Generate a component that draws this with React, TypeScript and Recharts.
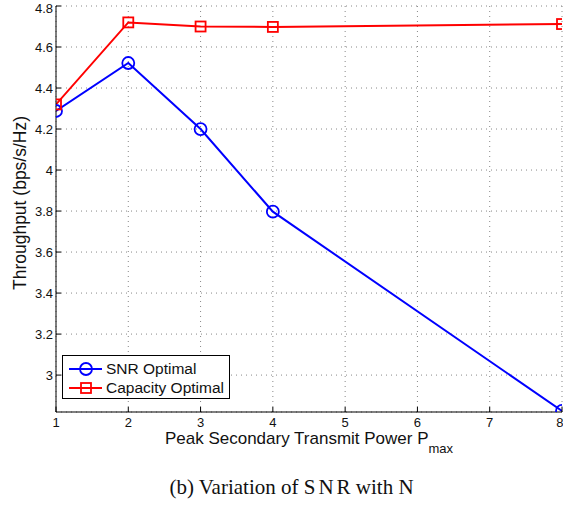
import {
  CartesianGrid,
  Legend,
  Line,
  LineChart,
  XAxis,
  YAxis,
} from "recharts";

const powers = [1, 2, 3, 4, 8];
const snrOptimal = [4.288, 4.522, 4.2, 3.797, 2.825];
const capacityOptimal = [4.32, 4.72, 4.7, 4.698, 4.712];
const xTicks = [1, 2, 3, 4, 5, 6, 7, 8];
const yTicks = [3, 3.2, 3.4, 3.6, 3.8, 4, 4.2, 4.4, 4.6, 4.8];

const rows = powers.map((p, i) => ({
  p,
  snr: snrOptimal[i],
  cap: capacityOptimal[i],
}));

const FONT = "'Liberation Sans', Arial, Helvetica, sans-serif";
const BLUE = "#0000ff";
const RED = "#ff0000";

const SquareDot = (props: any) => {
  const { cx, cy } = props;
  if (cx == null || cy == null) return null;
  return (
    <rect
      x={cx - 5}
      y={cy - 5}
      width={10}
      height={10}
      fill="none"
      stroke={RED}
      strokeWidth={1.8}
    />
  );
};

const XLabel = (props: any) => {
  const vb = props.viewBox || {};
  const cx = vb.x + vb.width / 2;
  return (
    <text
      x={cx}
      y={444}
      textAnchor="middle"
      fontFamily={FONT}
      fontSize={17}
      fill="#111"
    >
      Peak Secondary Transmit Power P
      <tspan fontSize={13} dy={9}>
        max
      </tspan>
    </text>
  );
};

const LegendBox = () => (
  <svg width={168} height={45} style={{ display: "block" }}>
    <rect x={0.5} y={0.5} width={167} height={43} fill="#fff" stroke="#000" />
    <line x1={7} x2={40} y1={14} y2={14} stroke={BLUE} strokeWidth={2} />
    <circle cx={24} cy={14} r={6} fill="none" stroke={BLUE} strokeWidth={1.8} />
    <text x={44} y={19} fontFamily={FONT} fontSize={15.5} fill="#111">
      SNR Optimal
    </text>
    <line x1={7} x2={40} y1={33} y2={33} stroke={RED} strokeWidth={2} />
    <rect x={19} y={28} width={10} height={10} fill="none" stroke={RED} strokeWidth={1.8} />
    <text x={44} y={38} fontFamily={FONT} fontSize={15.5} fill="#111">
      Capacity Optimal
    </text>
  </svg>
);

export default function App() {
  return (
    <div
      style={{
        position: "absolute",
        left: 0,
        top: 0,
        width: 563,
        height: 509,
        background: "#fff",
      }}
    >
      <LineChart
        width={563}
        height={460}
        data={rows}
        margin={{ top: 6, right: 1, bottom: 0, left: 0 }}
      >
        <CartesianGrid stroke="#888" strokeDasharray="1 4" strokeWidth={1} />
        <XAxis
          dataKey="p"
          type="number"
          domain={[1, 8]}
          ticks={xTicks}
          allowDataOverflow
          height={48}
          stroke="#000"
          tickSize={-5}
          tickMargin={11}
          tick={{ fill: "#111", fontSize: 13, fontFamily: FONT }}
          label={<XLabel />}
        />
        <XAxis
          xAxisId="top"
          dataKey="p"
          type="number"
          domain={[1, 8]}
          ticks={xTicks}
          orientation="top"
          height={0}
          stroke="#000"
          tick={false}
          tickSize={-5}
        />
        <YAxis
          type="number"
          domain={[2.82, 4.8]}
          ticks={yTicks}
          allowDataOverflow
          width={56}
          stroke="#000"
          tickSize={-5}
          tickMargin={8}
          tick={{ fill: "#111", fontSize: 13, fontFamily: FONT }}
          label={{
            value: "Throughput (bps/s/Hz)",
            angle: -90,
            position: "insideLeft",
            offset: 0,
            dx: 20,
            dy: -6,
            style: {
              textAnchor: "middle",
              fontFamily: FONT,
              fontSize: 17.5,
              fill: "#111",
            },
          }}
        />
        <YAxis
          yAxisId="right"
          type="number"
          domain={[2.82, 4.8]}
          ticks={yTicks}
          orientation="right"
          width={0}
          stroke="#000"
          tick={false}
          tickSize={-5}
        />
        <Legend
          layout="horizontal"
          verticalAlign="middle"
          align="center"
          wrapperStyle={{ left: 62, top: 355, width: 168 }}
          content={() => <LegendBox />}
        />
        <Line
          dataKey="snr"
          stroke={BLUE}
          strokeWidth={2}
          dot={{ r: 6, fill: "none", stroke: BLUE, strokeWidth: 1.8 }}
          isAnimationActive={false}
        />
        <Line
          dataKey="cap"
          stroke={RED}
          strokeWidth={2}
          dot={<SquareDot />}
          isAnimationActive={false}
        />
      </LineChart>
      <div
        style={{
          position: "absolute",
          left: 0,
          width: 584,
          top: 475,
          textAlign: "center",
          fontFamily: "'Liberation Serif', 'Times New Roman', serif",
          fontSize: 21,
          color: "#111",
        }}
      >
        (b) Variation of <span style={{ letterSpacing: 3 }}>SN</span>R with{" "}
        <span style={{ letterSpacing: 1 }}>N</span>
      </div>
    </div>
  );
}
